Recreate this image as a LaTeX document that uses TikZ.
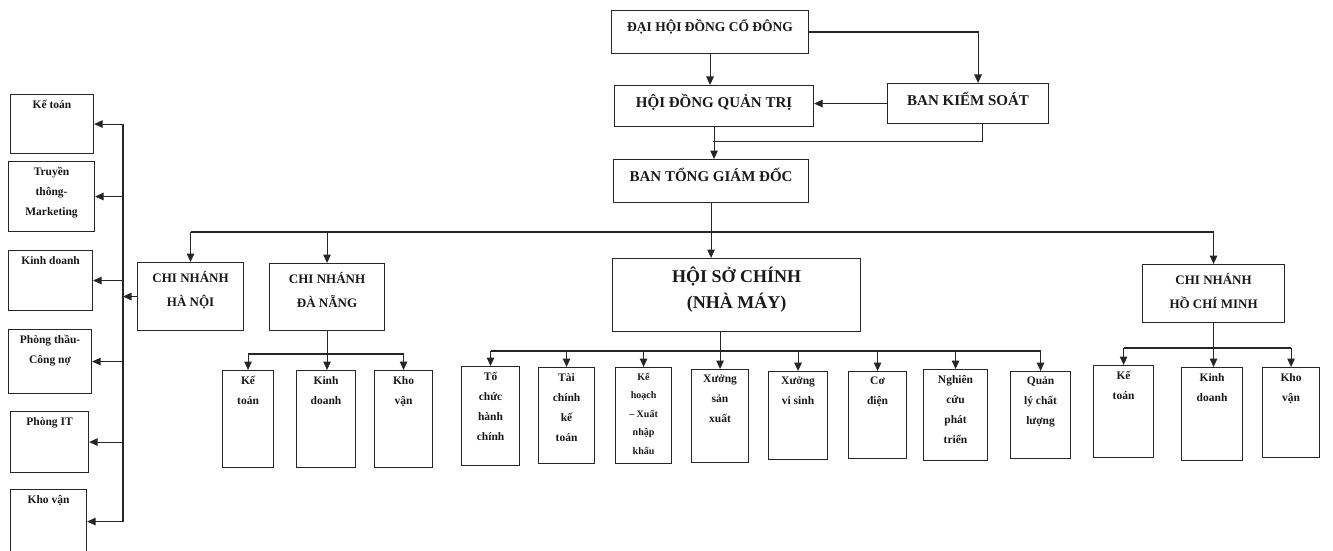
\documentclass[tikz,border=0pt]{standalone}
\usepackage{fontspec}
\setmainfont{Liberation Serif}
\usetikzlibrary{arrows.meta, positioning, calc}

\begin{document}
\begin{tikzpicture}[
  x=1pt, y=-1pt,
  box/.style={rectangle, draw=black!85, line width=1.1pt, inner sep=0pt, anchor=north west},
  head/.style={font=\bfseries\fontsize{15}{24}\selectfont, align=center, anchor=north,
               inner sep=0pt, yshift=-9pt, text=black!90},
  dept/.style={font=\bfseries\fontsize{11.5}{20}\selectfont, align=center, anchor=north,
               inner sep=0pt, yshift=-6pt, text=black!90},
  arr/.style={-{Triangle[length=8.5pt, width=7.5pt]}, line width=1.1pt, black!85},
  conn/.style={line width=1.1pt, black!85},
]
\useasboundingbox (0,0) rectangle (1333,551);

% Top management
\node[box, minimum width=197pt, minimum height=43pt,
  label={[head, font=\bfseries\fontsize{13.5}{24}\selectfont]north:ĐẠI HỘI ĐỒNG CỔ ĐÔNG}] (dhdcd) at (611,10) {};
\node[box, minimum width=199pt, minimum height=41pt,
  label={[head]north:HỘI ĐỒNG QUẢN TRỊ}] (hdqt) at (614,85) {};
\node[box, minimum width=161pt, minimum height=40pt,
  label={[head]north:BAN KIỂM SOÁT}] (bks) at (887,83) {};
\node[box, minimum width=195pt, minimum height=43pt,
  label={[head]north:BAN TỔNG GIÁM ĐỐC}] (btgd) at (613,159) {};

% Branches
\node[box, minimum width=106pt, minimum height=68pt,
  label={[head, font=\bfseries\fontsize{13}{24}\selectfont]north:CHI NHÁNH\\HÀ NỘI}] (hn) at (137,262) {};
\node[box, minimum width=115pt, minimum height=67pt,
  label={[head, font=\bfseries\fontsize{13}{24}\selectfont]north:CHI NHÁNH\\ĐÀ NẴNG}] (dn) at (269,263) {};
\node[box, minimum width=248pt, minimum height=73pt,
  label={[head, font=\bfseries\fontsize{18}{26}\selectfont]north:HỘI SỞ CHÍNH\\(NHÀ MÁY)}] (hsc) at (612,258) {};
\node[box, minimum width=142pt, minimum height=58pt,
  label={[head, font=\bfseries\fontsize{13}{24}\selectfont]north:CHI NHÁNH\\HỒ CHÍ MINH}] (hcm) at (1142,264) {};

% Ha Noi departments
\node[box, minimum width=83pt, minimum height=59pt, label={[dept]north:Kế toán}] (lkt) at (10,94) {};
\node[box, minimum width=86pt, minimum height=70pt, label={[dept]north:Truyền\\thông-\\Marketing}] (ltt) at (8,161) {};
\node[box, minimum width=84pt, minimum height=60pt, label={[dept]north:Kinh doanh}] (lkd) at (8,250) {};
\node[box, minimum width=83pt, minimum height=64pt, label={[dept]north:Phòng thầu-\\Công nợ}] (lpt) at (8,329) {};
\node[box, minimum width=78pt, minimum height=61pt, label={[dept]north:Phòng IT}] (lit) at (10,411) {};
\node[box, minimum width=76pt, minimum height=64pt, label={[dept]north:Kho vận}] (lkv) at (10,489) {};

% Da Nang departments
\node[box, minimum width=51pt, minimum height=97pt, label={[dept]north:Kế\\toán}] (dnkt) at (222,370) {};
\node[box, minimum width=59pt, minimum height=97pt, label={[dept]north:Kinh\\doanh}] (dnkd) at (296,370) {};
\node[box, minimum width=58pt, minimum height=97pt, label={[dept]north:Kho\\vận}] (dnkv) at (374,370) {};

% Head office departments
\node[box, minimum width=58pt, minimum height=99pt, label={[dept]north:Tổ\\chức\\hành\\chính}] (tchc) at (461,366) {};
\node[box, minimum width=56pt, minimum height=96pt, label={[dept]north:Tài\\chính\\kế\\toán}] (tckt) at (538,367) {};
\node[box, minimum width=56pt, minimum height=96pt,
  label={[dept, font=\bfseries\fontsize{10}{18.5}\selectfont]north:Kế\\hoạch\\– Xuất\\nhập\\khẩu}] (khxnk) at (615,367) {};
\node[box, minimum width=57pt, minimum height=93pt, label={[dept]north:Xưởng\\sản\\xuất}] (xsx) at (691,369) {};
\node[box, minimum width=59pt, minimum height=88pt, label={[dept]north:Xưởng\\vi sinh}] (xvs) at (768,371) {};
\node[box, minimum width=58pt, minimum height=87pt, label={[dept]north:Cơ\\điện}] (cd) at (848,371) {};
\node[box, minimum width=64pt, minimum height=91pt, label={[dept]north:Nghiên\\cứu\\phát\\triển}] (nccpt) at (923,369) {};
\node[box, minimum width=60pt, minimum height=87pt, label={[dept]north:Quản\\lý chất\\lượng}] (qlcl) at (1010,371) {};

% Ho Chi Minh departments
\node[box, minimum width=60pt, minimum height=92pt, label={[dept]north:Kế\\toán}] (hckt) at (1093,365) {};
\node[box, minimum width=61pt, minimum height=93pt, label={[dept]north:Kinh\\doanh}] (hckd) at (1181,367) {};
\node[box, minimum width=57pt, minimum height=90pt, label={[dept]north:Kho\\vận}] (hckv) at (1262,367) {};

% Bus levels
\coordinate (bus) at (0,232);
\coordinate (spine) at (123,0);
\coordinate (dnbus) at (0,354);
\coordinate (hscbus) at (0,351);
\coordinate (hcmbus) at (0,348);

% Top arrows
\draw[arr] (dhdcd) -- (dhdcd |- hdqt.north);
\draw[arr] (dhdcd.east) -| ([xshift=10pt]bks.north);
\draw[arr] (bks.west) -- (bks.west -| hdqt.east);
\draw[arr] (hdqt) -- (hdqt |- btgd.north);
\draw[conn] ([xshift=14pt]bks.south) |- ($(hdqt.south)!0.45!(btgd.north)$);

% Branch arrows
\draw[arr] (btgd.south) -- (btgd.south |- hsc.north);
\draw[conn] (hn.north |- bus) -- (hcm.north |- bus);
\draw[arr] (hn.north |- bus) -- (hn.north);
\draw[arr] (dn.north |- bus) -- (dn.north);
\draw[arr] (hcm.north |- bus) -- (hcm.north);

% Ha Noi
\draw[arr] (hn.west) -- (hn.west -| spine);
\draw[conn] (spine |- lkt.east) -- (spine |- lkv.east);
\draw[arr] (spine |- lkt.east) -- (lkt.east);
\draw[arr] (spine |- ltt.east) -- (ltt.east);
\draw[arr] (spine |- lkd.east) -- (lkd.east);
\draw[arr] (spine |- lpt.east) -- (lpt.east);
\draw[arr] (spine |- lit.east) -- (lit.east);
\draw[arr] (spine |- lkv.east) -- (lkv.east);

% Da Nang
\draw[arr] (dn.south) -- (dn.south |- dnkd.north);
\draw[conn] (dnkt.north |- dnbus) -- (dnkv.north |- dnbus);
\draw[arr] (dnkt.north |- dnbus) -- (dnkt.north);
\draw[arr] (dnkv.north |- dnbus) -- (dnkv.north);

% Head office
\draw[arr] (hsc.south -| xsx.north) -- (xsx.north);
\draw[conn] (tchc.north |- hscbus) -- (qlcl.north |- hscbus);
\draw[arr] (tchc.north |- hscbus) -- (tchc.north);
\draw[arr] (tckt.north |- hscbus) -- (tckt.north);
\draw[arr] (khxnk.north |- hscbus) -- (khxnk.north);
\draw[arr] (xvs.north |- hscbus) -- (xvs.north);
\draw[arr] (cd.north |- hscbus) -- (cd.north);
\draw[arr] (nccpt.north |- hscbus) -- (nccpt.north);
\draw[arr] (qlcl.north |- hscbus) -- (qlcl.north);

% Ho Chi Minh
\draw[arr] (hcm.south) -- (hcm.south |- hckd.north);
\draw[conn] (hckt.north |- hcmbus) -- (hckv.north |- hcmbus);
\draw[arr] (hckt.north |- hcmbus) -- (hckt.north);
\draw[arr] (hckv.north |- hcmbus) -- (hckv.north);

\end{tikzpicture}
\end{document}
